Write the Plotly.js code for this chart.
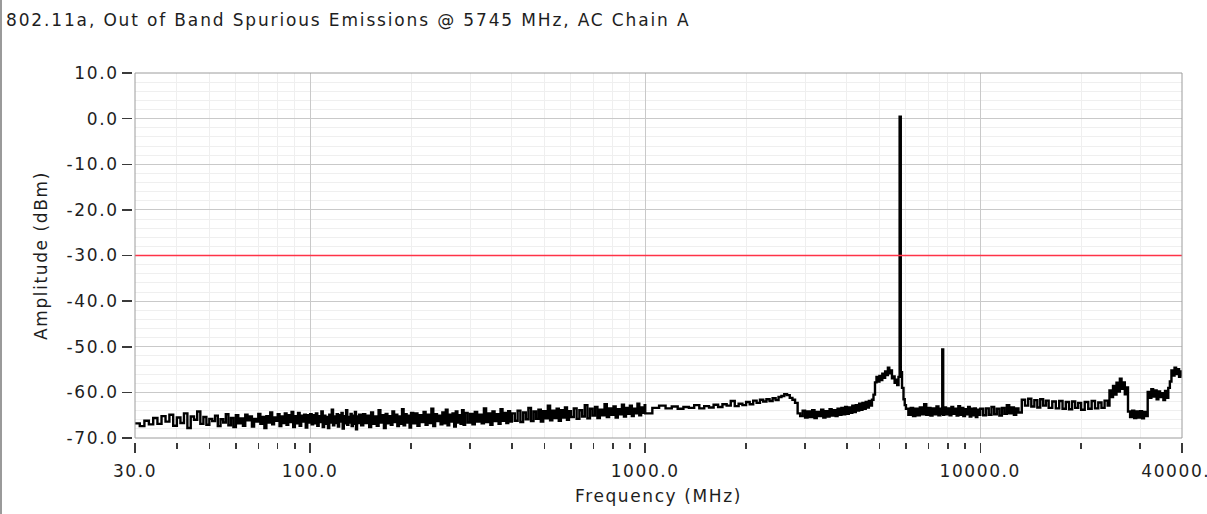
<!DOCTYPE html>
<html>
<head>
<meta charset="utf-8">
<script src="https://cdn.plot.ly/plotly-3.0.1.min.js"></script>
<style>
  html, body { margin:0; padding:0; background:#fff; }
  #chart { width:1207px; height:514px; position:relative; }
  #edge { position:absolute; left:0; top:0; width:2px; height:514px; background:#9a9a9a; z-index:10; }
  svg text { letter-spacing: 1.6px; }
  svg .gtitle { letter-spacing: 1.85px; }
</style>
</head>
<body>
<div id="edge"></div>
<div id="chart"></div>
<script>
// ---- data ----
const titleText = "802.11a, Out of Band Spurious Emissions @ 5745 MHz, AC Chain A";
const xTitle = "Frequency (MHz)";
const yTitle = "Amplitude (dBm)";
const limitDbm = -30;
const freqRange = [30, 40000];

const xTickVals = [30, 100, 1000, 10000, 40000];
const xTickText = ["30.0", "100.0", "1000.0", "10000.0", "40000.0"];
const xMinorVals = [40,50,60,70,80,90,200,300,400,500,600,700,800,900,2000,3000,4000,5000,6000,7000,8000,9000,20000,30000];
const yTickVals = [-70, -60, -50, -40, -30, -20, -10, 0, 10];
const yTickText = ["-70.0", "-60.0", "-50.0", "-40.0", "-30.0", "-20.0", "-10.0", "0.0", "10.0"];

// 30 - 100 MHz
const freqA = [30,31,32,33,34,35,36,37,38,39,40,41,42,43,44,45,46,47,48,49,50,51,52,53,54,55,56,57,58,59,60,61,62,63,64,65,66,67,68,69,70,71,72,73,74,75,76,77,78,79,80,81,82,83,84,85,86,87,88,89,90,91,92,93,94,95,96,97,98,99,100];
const ampA = [-66.8,-67.4,-66.2,-67.0,-65.6,-66.9,-65.2,-66.4,-64.9,-67.3,-65.5,-66.7,-64.6,-67.8,-65.3,-66.0,-64.2,-66.9,-65.4,-67.1,-65.8,-66.3,-65.1,-67.4,-65.9,-66.6,-64.8,-67.2,-65.6,-67.6,-65.0,-66.8,-65.7,-67.3,-64.9,-66.1,-65.3,-67.5,-65.8,-66.4,-64.7,-66.9,-65.4,-67.8,-65.2,-66.6,-64.4,-67.0,-65.5,-66.2,-64.8,-67.4,-65.3,-66.7,-64.6,-67.1,-65.0,-66.5,-64.3,-67.6,-65.2,-66.8,-64.5,-67.3,-65.1,-66.4,-64.9,-67.7,-65.0,-66.6,-64.8];

// 100 - 1000 MHz
const freqB = [101,102,103,104,105,106,107,108,109,110,111,112,113,114,115,116,117,118,119,120,121,122,123,124,125,126,127,128,129,130,131,132,133,134,135,136,137,138,139,140,
142,144,146,148,150,152,154,156,158,160,162,164,166,168,170,172,174,176,178,180,182,184,186,188,190,192,194,196,198,200,
203,206,209,212,215,218,221,224,227,230,233,236,239,242,245,248,251,254,257,260,263,266,269,272,275,278,281,284,287,290,
295,300,305,310,315,320,325,330,335,340,345,350,355,360,365,370,375,380,385,390,395,400,
408,416,424,432,440,448,456,464,472,480,488,496,504,512,520,528,536,544,552,560,568,576,584,592,600,
612,624,636,648,660,672,684,696,708,720,732,744,756,768,780,792,804,816,828,840,852,864,876,888,900,912,924,936,948,960,972,984,996,1000];
const ampB = [-67.0,-65.0,-66.8,-64.6,-67.3,-65.2,-66.5,-64.2,-67.6,-65.1,
-66.9,-65.4,-67.8,-64.9,-66.6,-63.8,-67.2,-65.3,-66.7,-64.8,
-67.5,-65.0,-66.4,-64.5,-67.9,-65.2,-66.8,-63.9,-67.1,-65.4,
-66.6,-64.7,-67.4,-65.1,-66.9,-64.3,-68.1,-65.3,-66.7,-64.9,
-67.2,-64.8,-66.7,-65.1,-67.6,-64.4,-66.9,-65.3,-67.3,-63.9,
-66.6,-65.0,-67.8,-64.7,-66.8,-65.2,-67.1,-64.2,-66.5,-64.9,
-67.4,-65.3,-66.9,-63.7,-67.2,-64.8,-66.6,-65.1,-67.7,-64.5,
-66.8,-64.6,-67.3,-65.0,-66.5,-64.3,-67.1,-64.9,-66.7,-63.6,
-67.4,-64.8,-66.3,-65.1,-67.0,-64.4,-66.8,-63.8,-67.2,-64.9,
-66.4,-64.6,-67.5,-64.2,-66.6,-65.0,-66.9,-63.9,-67.1,-64.5,
-66.6,-64.7,-67.0,-64.3,-66.4,-64.9,-66.8,-63.5,-66.5,-64.6,
-67.1,-64.2,-66.3,-64.8,-66.9,-63.7,-66.2,-64.5,-66.7,-64.1,
-66.4,-64.6,
-66.2,-64.0,-66.5,-64.4,-65.9,-63.4,-66.3,-64.2,-65.8,-63.8,
-66.4,-64.1,-65.7,-62.9,-66.1,-64.0,-65.6,-63.6,-66.2,-63.9,
-65.5,-63.3,-66.0,-64.1,-65.4,
-63.5,-65.8,-63.9,-65.3,-62.8,-65.7,-63.6,-65.1,-63.2,-65.6,
-63.8,-65.0,-62.6,-65.4,-63.5,-64.9,-63.1,-65.5,-63.7,-64.8,
-62.7,-65.3,-63.4,-64.7,-62.9,-65.2,-63.6,-64.6,-62.5,-65.0,
-63.3,-64.5,-62.8,-64.6];

// 1 - 2.9 GHz
const freqC = [1050,1100,1150,1200,1250,1300,1350,1400,1450,1500,1550,1600,1650,1700,1750,1800,1850,1900,1950,2000,2050,2100,2150,2200,2250,2300,2350,2400,2450,2500,2550,2600,2650,2700,2750,2800,2850,2900];
const ampC = [-63.4,-62.9,-63.5,-63.1,-63.6,-63.2,-63.4,-62.8,-63.5,-63.0,-63.3,-62.7,-63.2,-62.6,-62.9,-61.9,-63.0,-62.5,-62.8,-62.1,-62.6,-61.8,-62.3,-61.6,-62.0,-61.5,-61.9,-61.3,-61.7,-61.0,-60.8,-60.4,-60.6,-61.2,-61.6,-62.3,-64.6,-65.2];

// 2.9 - 10 GHz (carrier at 5745 MHz)
const freqD = [2950,3000,3050,3100,3150,3200,3250,3300,3350,3400,3450,3500,3550,3600,3650,3700,3750,3800,3850,3900,3950,4000,4050,4100,4150,4200,4250,4300,4350,4400,4450,4500,4550,4600,4650,4700,4750,4800,4850,4900,4950,5000,5050,5100,5150,5200,5250,5300,5350,5400,5450,5500,5550,5600,5650,5700,5745,5790,5840,5900,5950,6000,6100,6200,6300,6400,6500,6600,6700,6800,6900,7000,7100,7200,7300,7400,7500,7600,7650,7700,7750,7800,7900,8000,8100,8200,8300,8400,8500,8600,8700,8800,8900,9000,9100,9200,9300,9400,9500,9600,9700,9800,9900,10000];
const ampD = [-64.0,-65.5,-64.2,-65.4,-63.9,-65.6,-64.3,-65.2,-63.8,-65.5,-64.1,-65.3,-63.7,-65.1,-63.9,-65.2,-63.6,-64.9,-63.4,-64.8,-63.2,-64.7,-63.3,-64.5,-62.9,-64.3,-62.8,-64.0,-62.5,-63.8,-62.3,-63.6,-62.1,-63.3,-61.9,-62.9,-61.6,-60.5,
-57.8,-56.6,-57.6,-56.4,-57.3,-55.9,-56.8,-55.4,-56.2,-54.6,-55.8,-55.2,-56.9,-56.5,-57.9,-57.2,-58.4,-56.6,0.4,-55.6,-59.0,-61.5,-62.8,-63.6,
-64.9,-63.4,-65.2,-63.6,-65.0,-63.3,-64.8,-62.6,-64.9,-63.4,-65.1,-63.5,-64.8,-63.1,-65.0,-63.6,-64.7,-50.6,-64.9,-63.3,-64.8,-63.5,-65.0,-63.2,-64.7,-63.6,-65.1,-63.0,-64.9,-63.4,-65.2,-63.7,-64.8,-63.2,-65.3,-63.6,-65.0,-63.5,-65.4,-63.8,-64.9,-63.6];

// 10 - 40 GHz
const freqE = [10200,10400,10600,10800,11000,11200,11400,11600,11800,12000,12200,12400,12600,12800,13000,13300,13600,13900,14200,14500,14800,15100,15400,15700,16000,16400,16800,17200,17600,18000,18400,18800,19200,19600,20000,20500,21000,21500,22000,22500,23000,23500,24000,24300,24600,24900,25200,25500,25800,26100,26400,26700,27000,27300,27600,28000,28400,28800,29200,29600,30000,30400,30800,31200,31600,32000,32400,32800,33200,33600,34000,34400,34800,35200,35600,36000,36400,36800,37200,37600,38000,38400,38800,39200,39600,40000];
const ampE = [-65.0,-63.5,-64.9,-63.2,-64.8,-63.6,-65.1,-63.4,-64.7,-62.8,-64.6,-63.3,-64.9,-63.5,-64.4,
-61.6,-62.9,-61.4,-63.1,-61.7,-63.3,-61.5,-62.9,-61.8,-63.4,-62.0,-63.5,-61.9,-63.6,-62.1,-63.7,-62.0,-63.4,-62.3,-63.8,-62.1,-63.6,-61.9,-63.5,-62.2,-63.4,-61.8,-62.9,
-59.6,-61.0,-58.6,-60.5,-57.9,-59.8,-57.0,-59.2,-57.8,-60.4,-58.9,-64.2,-65.4,-64.0,-65.6,-64.2,-65.5,-64.1,-65.7,-64.3,-65.2,
-59.9,-61.2,-59.3,-60.9,-59.6,-61.5,-59.8,-61.0,-60.2,-61.7,-59.7,-61.2,-59.0,-57.6,-55.2,-56.3,-54.6,-56.0,-54.9,-56.6,-55.4,-56.5];

const freq = freqA.concat(freqB, freqC, freqD, freqE);
const amp = ampA.concat(ampB, ampC, ampD, ampE);

// ---- chart ----
const fontFam = "DejaVu Sans, Verdana, sans-serif";
const fs = 17;
const txt = "#1e1e1e";

const traces = [
  { x: freq, y: amp, type: "scatter", mode: "lines",
    line: { color: "#000000", width: 2.4, shape: "hv" }, hoverinfo: "skip", showlegend: false },
  { x: freqRange, y: [limitDbm, limitDbm], type: "scatter", mode: "lines",
    line: { color: "#ff3347", width: 1.6 }, hoverinfo: "skip", showlegend: false }
];

const layout = {
  width: 1207, height: 514,
  paper_bgcolor: "#ffffff", plot_bgcolor: "#ffffff",
  margin: { l: 132, r: 25, t: 73, b: 72, pad: 0 },
  font: { family: fontFam, size: fs, color: txt },
  title: { text: titleText, x: 0.005, xref: "container", xanchor: "left",
           y: 0.961, yref: "container", yanchor: "middle",
           font: { family: fontFam, size: fs, color: txt } },
  xaxis: {
    type: "log",
    range: [Math.log10(freqRange[0]), Math.log10(freqRange[1])],
    domain: [0.00286, 1],
    anchor: "free", position: 0,
    tickmode: "array", tickvals: xTickVals, ticktext: xTickText,
    ticks: "outside", ticklen: 10, tickwidth: 1.5, tickcolor: "#3a3a3a",
    ticklabelstandoff: 4, ticklabeloverflow: "allow",
    showgrid: true, gridcolor: "#c9c9c9", gridwidth: 1,
    showline: false, zeroline: false,
    tickfont: { family: fontFam, size: fs, color: txt },
    minor: { tickmode: "array", tickvals: xMinorVals, ticks: "outside", ticklen: 6,
             tickwidth: 1.5, tickcolor: "#3a3a3a", showgrid: true, gridcolor: "#efefef", gridwidth: 1 },
    title: { text: xTitle, standoff: 9, font: { family: fontFam, size: fs, color: txt } }
  },
  yaxis: {
    range: [-70, 10],
    domain: [0.0108, 1],
    anchor: "free", position: 0,
    tickmode: "array", tickvals: yTickVals, ticktext: yTickText,
    ticks: "outside", ticklen: 10, tickwidth: 1.5, tickcolor: "#3a3a3a",
    showgrid: true, gridcolor: "#c9c9c9", gridwidth: 1,
    showline: false, zeroline: false,
    tickfont: { family: fontFam, size: fs, color: txt },
    minor: { tickmode: "linear", tick0: -70, dtick: 2, showgrid: true, gridcolor: "#efefef", gridwidth: 1, ticks: "" },
    title: { text: yTitle, standoff: 13, font: { family: fontFam, size: fs, color: txt } }
  },
  shapes: [
    { type: "rect", xref: "x domain", yref: "y domain", x0: 0, x1: 1, y0: 0, y1: 1,
      line: { color: "#9c9c9c", width: 1 }, fillcolor: "rgba(0,0,0,0)", layer: "above" }
  ]
};

Plotly.newPlot("chart", traces, layout, { staticPlot: true, displayModeBar: false });
</script>
</body>
</html>
